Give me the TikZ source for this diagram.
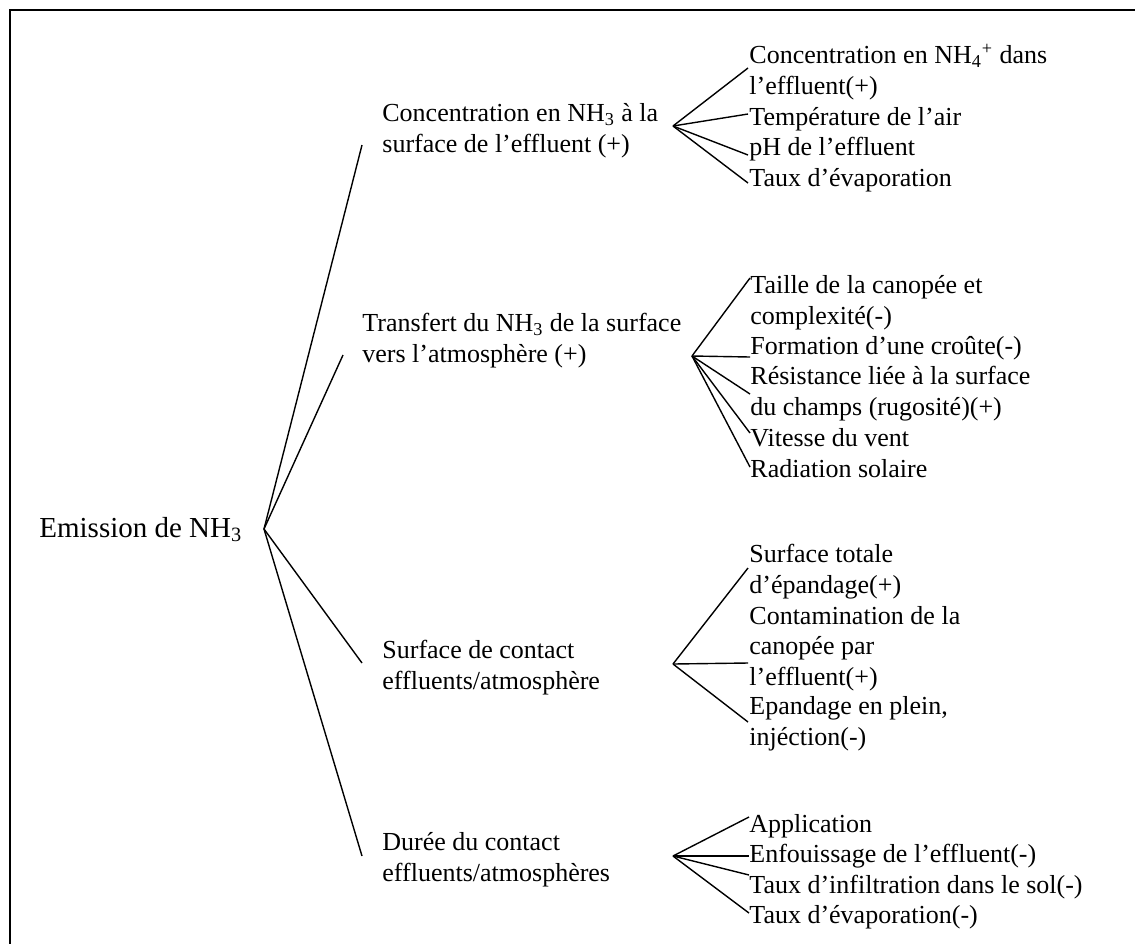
\documentclass[tikz,border=0pt]{standalone}
\usepackage{fontspec}
\setmainfont{Liberation Serif}
\usetikzlibrary{positioning}
\tikzset{
  treeline/.style={line width=0.7pt, draw=black},
  treelabel/.style={anchor=base west, inner sep=0pt, align=left, font=\fontsize{13}{15.25}\selectfont},
  rootlabel/.style={treelabel, font=\fontsize{14.5}{17}\selectfont},
}

\begin{document}
\begin{tikzpicture}[x=0.5pt, y=-0.5pt]
  \useasboundingbox (0,0) rectangle (1135,944);
  \draw[line width=0.9pt] (1135,10) -- (10,10) -- (10,944);

  % root
  \node[rootlabel] (emit) at (39,537) {Emission de NH\textsubscript{3}};
  \coordinate (emit-hub) at (264,529);

  % second level (placed by the baseline of their last line)
  \node[treelabel] (conc) at (382,152) {Concentration en NH\textsubscript{3} à la\\surface de l’effluent (+)};
  \node[treelabel] (trans) at (362,362) {Transfert du NH\textsubscript{3} de la surface\\vers l’atmosphère (+)};
  \node[treelabel] (surf) at (382,689) {Surface de contact\\effluents/atmosphère};
  \node[treelabel] (dur) at (382,881) {Durée du contact\\effluents/atmosphères};
  \coordinate (conc-in) at (362,145);
  \coordinate (trans-in) at (343,355);
  \coordinate (surf-in) at (362,663);
  \coordinate (dur-in) at (362,856);
  \coordinate (conc-hub) at (673,126);
  \coordinate (trans-hub) at (692,356);
  \coordinate (surf-hub) at (673,664);
  \coordinate (dur-hub) at (673,856);
  \foreach \b in {conc,trans,surf,dur}
    \draw[treeline] (emit-hub) -- (\b-in);

  % leaves
  \foreach \nm/\yy/\ey/\txt in {
      a1/94/68/{Concentration en NH\textsubscript{4}\textsuperscript{+} dans\\l’effluent(+)},
      a2/125/114/{Température de l’air},
      a3/155/155/{pH de l’effluent},
      a4/186/183/{Taux d’évaporation}} {
    \node[treelabel] (\nm) at (749,\yy) {\txt};
    \coordinate (\nm-in) at (748,\ey);
    \draw[treeline] (conc-hub) -- (\nm-in);
  }
  \foreach \nm/\yy/\ey/\txt in {
      b1/324/278/{Taille de la canopée et\\complexité(-)},
      b2/354/357/{Formation d’une croûte(-)},
      b3/415/394/{Résistance liée à la surface\\du champs (rugosité)(+)},
      b4/446/433/{Vitesse du vent},
      b5/477/467/{Radiation solaire}} {
    \node[treelabel] (\nm) at (750,\yy) {\txt};
    \coordinate (\nm-in) at (750,\ey);
    \draw[treeline] (trans-hub) -- (\nm-in);
  }
  \foreach \nm/\yy/\ey/\txt in {
      c1/593/568/{Surface totale\\d’épandage(+)},
      c2/685/663/{Contamination de la\\canopée par\\l’effluent(+)},
      c3/745/722/{Epandage en plein,\\injéction(-)}} {
    \node[treelabel] (\nm) at (749,\yy) {\txt};
    \coordinate (\nm-in) at (748,\ey);
    \draw[treeline] (surf-hub) -- (\nm-in);
  }
  \foreach \nm/\yy/\ey/\txt in {
      d1/832/817/{Application},
      d2/862/856/{Enfouissage de l’effluent(-)},
      d3/893/875/{Taux d’infiltration dans le sol(-)},
      d4/923/913/{Taux d’évaporation(-)}} {
    \node[treelabel] (\nm) at (749,\yy) {\txt};
    \coordinate (\nm-in) at (749,\ey);
    \draw[treeline] (dur-hub) -- (\nm-in);
  }
\end{tikzpicture}
\end{document}
